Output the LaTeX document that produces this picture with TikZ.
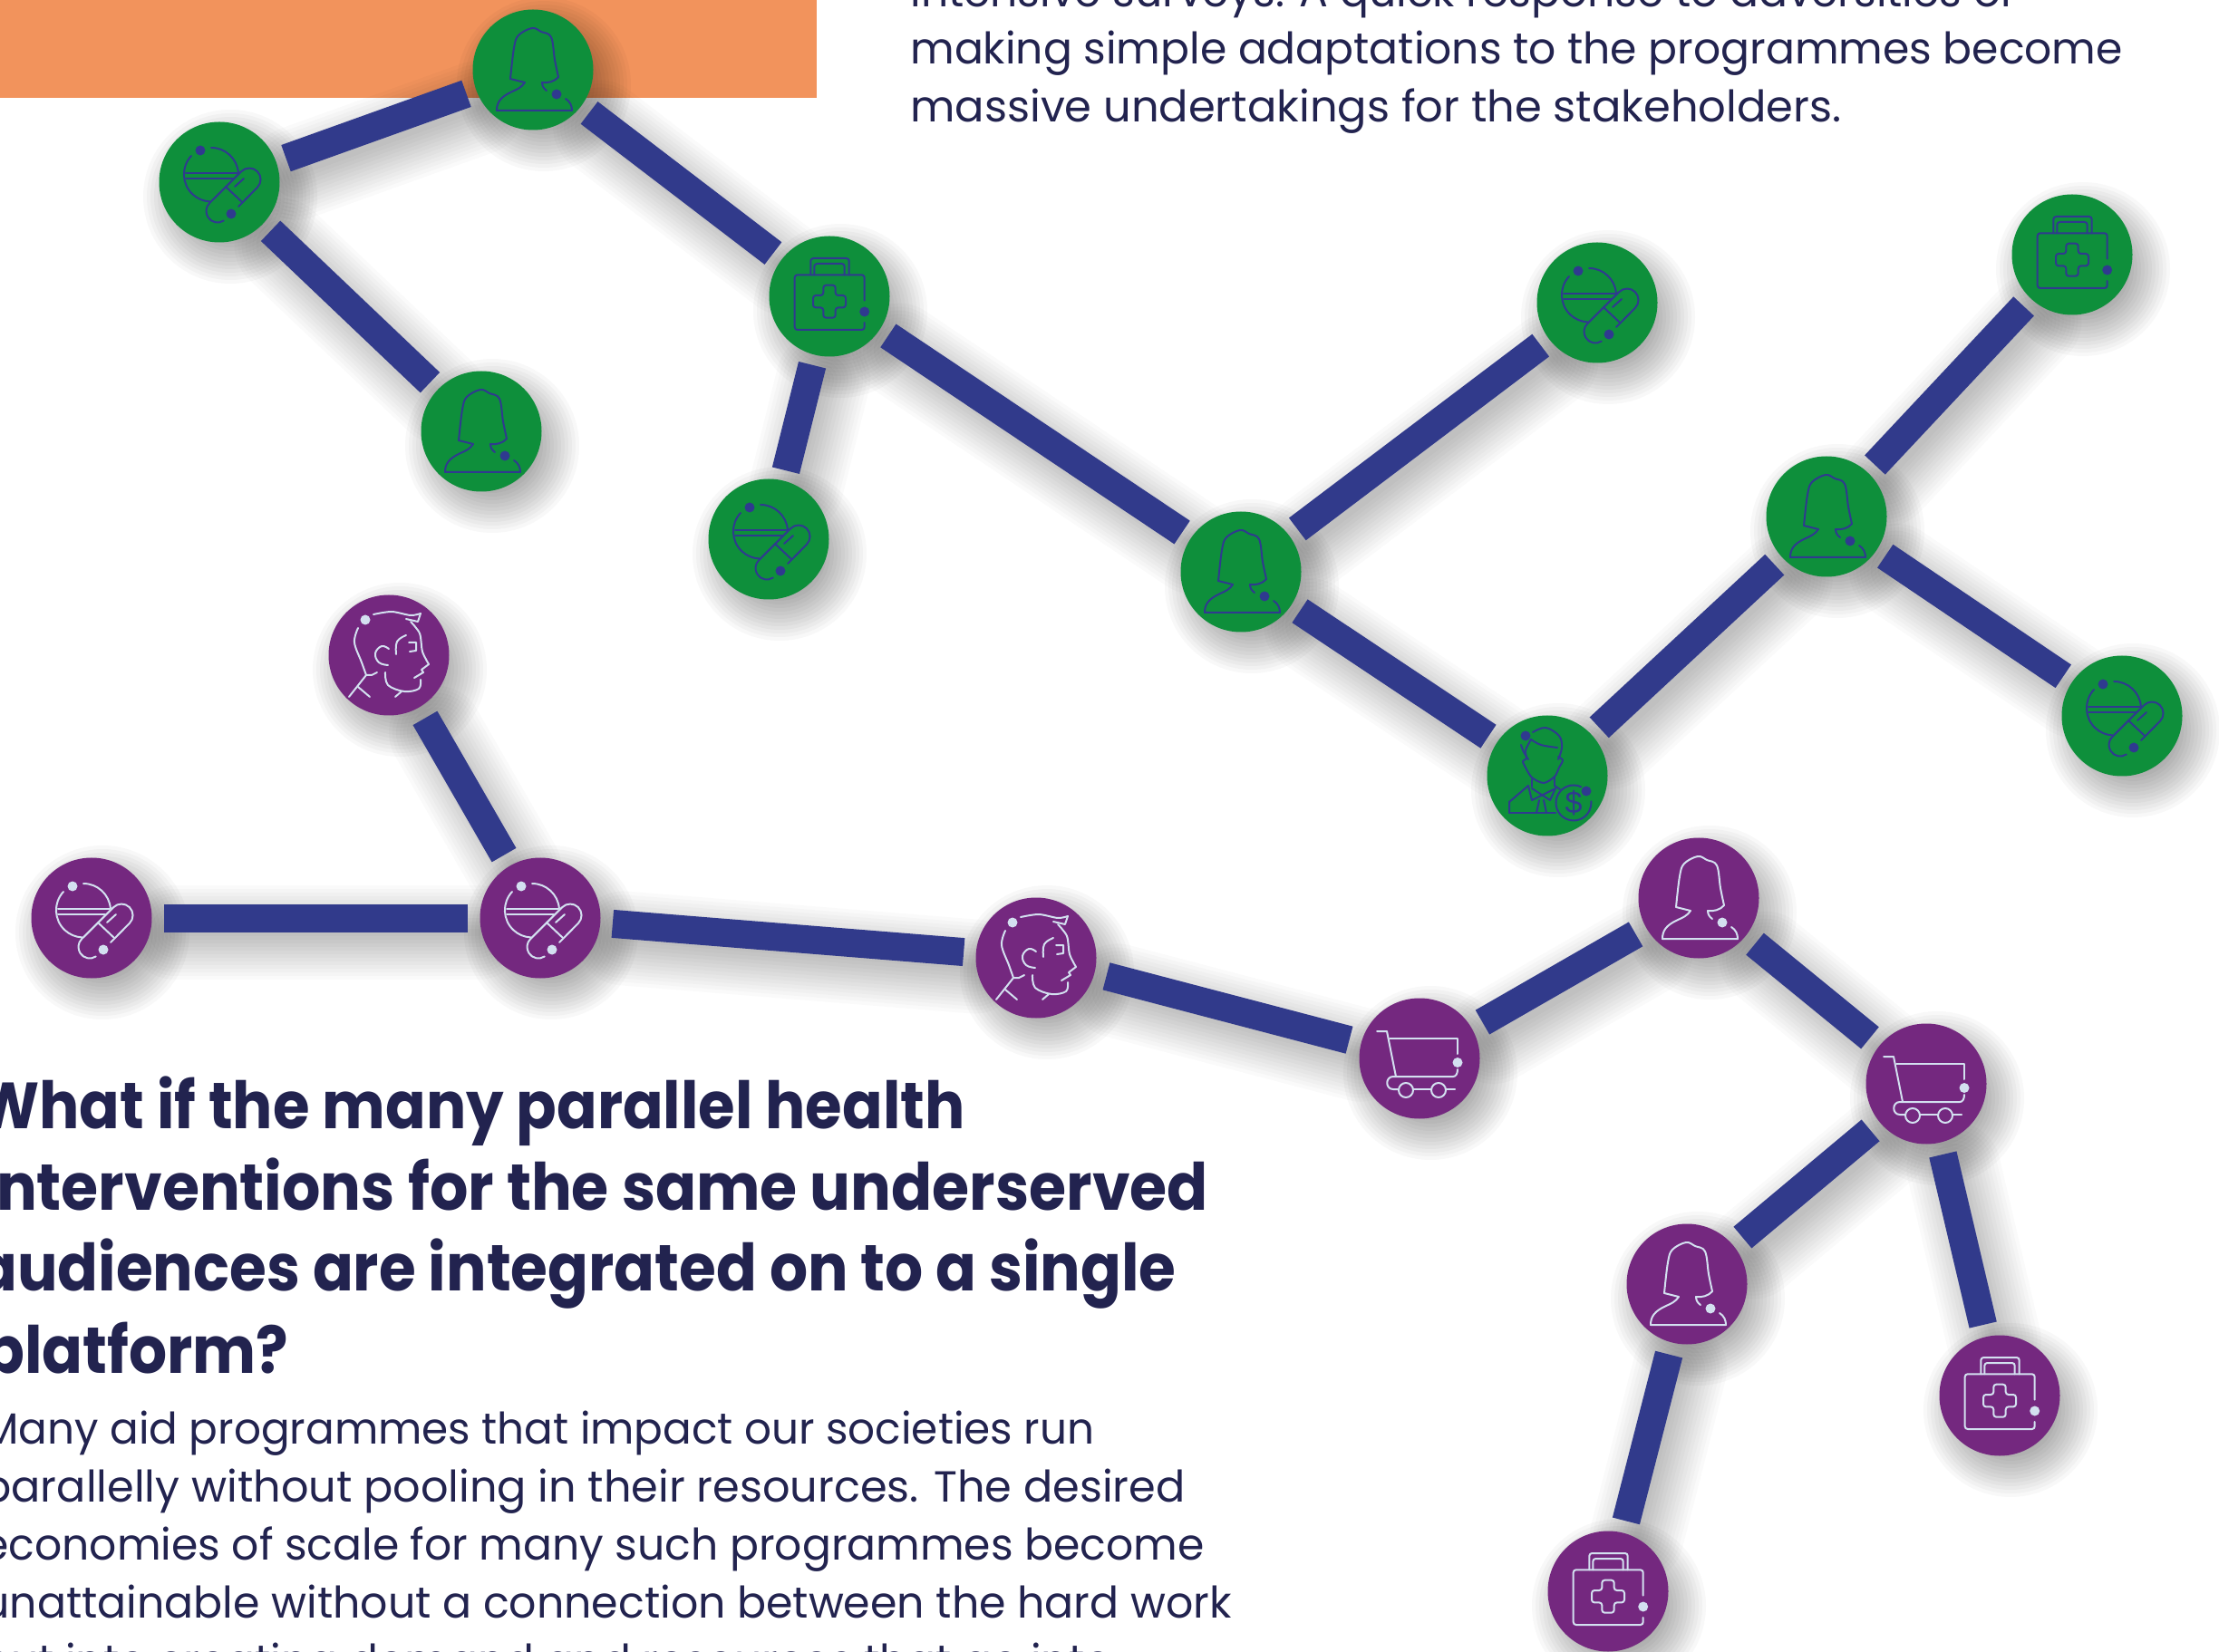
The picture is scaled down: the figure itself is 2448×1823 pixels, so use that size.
\documentclass[tikz,border=0pt]{standalone}
\usepackage{graphicx}
\usepackage{fontspec}
\setmainfont{Poppins}
\newfontfamily\headfont[FakeStretch=0.918]{Poppins}
\newfontfamily\bodyfont[FakeStretch=0.984]{Poppins}
\newfontfamily\dollarfont{Liberation Sans}
\definecolor{orangebar}{HTML}{F2935C}
\definecolor{gnodecol}{HTML}{0E8F3B}
\definecolor{pnodecol}{HTML}{74287F}
\definecolor{linkcol}{HTML}{313A8B}
\definecolor{iconblue}{HTML}{2F3A8F}
\definecolor{iconpale}{HTML}{D3E0F0}
\definecolor{inkcol}{HTML}{22234F}
\pgfdeclarelayer{barlayer}
\pgfdeclarelayer{shadowlayer}
\pgfsetlayers{barlayer,shadowlayer,main}
\tikzset{
  gnode/.style={circle,fill=gnodecol,minimum size=66.5pt,inner sep=0pt,outer sep=5.8pt},
  pnode/.style={circle,fill=pnodecol,minimum size=66.5pt,inner sep=0pt,outer sep=6.8pt},
  link/.style={draw=linkcol,line width=15.5pt},
  icl/.style={draw,line width=1pt,line join=round,line cap=round},
  headline/.style={anchor=base west,inner sep=0pt,text=inkcol,font=\headfont\bfseries\fontsize{36}{42}\selectfont},
  bodyline/.style={anchor=base west,inner sep=0pt,text=inkcol,font=\bodyfont\fontsize{24}{28}\selectfont},
  softlink/.style={line cap=round,draw=black,opacity=0.021,transform canvas={xshift=6pt,yshift=-8pt}},
  softnode/.style={fill=black,opacity=0.026,transform canvas={xshift=6pt,yshift=-8pt}},
  pics/woman/.style={code={
    \draw[icl] (36,32) .. controls (41,35) and (43,40) .. (43,45) -- (-40,45)
      .. controls (-40,36) and (-36,30) .. (-23,24) .. controls (-18,22) and (-12,19) .. (-9,14)
      -- (-25,10);
    \draw[icl] plot[smooth,tension=.6] coordinates {(-25,10) (-21,-24) (-16,-38) (-1,-46) (9,-42) (20,-36) (24,-11) (28,8)};
    \draw[icl] (28,8) .. controls (24,13) and (16,15) .. (10,14) .. controls (10,18) and (12,21) .. (15,23);
    \fill (26,27) circle[radius=5.5];
  }},
  pics/pills/.style={code={
    \fill (-21,-35) circle[radius=5.5];
    \fill (13,35) circle[radius=5.5];
    \draw[icl] (-9,-38) arc[start angle=270,end angle=355,radius=30];
    \draw[icl] (-31,-29) arc[start angle=223,end angle=93,radius=30];
    \draw[icl] (-37,-10) -- (20,-10);
    \draw[icl] (-37,-4) -- (15,-4);
    \draw[icl] (4.8,42.5) arc[start angle=57,end angle=225,radius=12.5] -- (24.2,-11.8)
      arc[start angle=225,end angle=405,radius=12.5] -- (21,27);
    \draw[icl] (7,5) -- (25,22);
    \draw[icl] (17,5) -- (27,-4);
  }},
  pics/kit/.style={code={
    \draw[icl,rounded corners=1.5pt] (38.7,4.7) -- (38.7,-23.7) -- (-38.3,-23.7) -- (-38.3,37) -- (38.7,37) -- (38.7,29);
    \fill (38.7,17) circle[radius=5.5];
    \draw[icl,rounded corners=1.5pt] (-20.7,-23.7) -- (-20.7,-42) -- (21.7,-42) -- (21.7,-23.7);
    \draw[icl,rounded corners=1.5pt] (-16.7,-23.7) -- (-16.7,-36) -- (16.7,-36) -- (16.7,-23.7);
    \draw[icl,rounded corners=1.5pt] (-6.7,-12.3) -- (6.7,-12.3) -- (6.7,-1) -- (18,-1) -- (18,12.4) -- (6.7,12.4) -- (6.7,23.7) -- (-6.7,23.7) -- (-6.7,12.4) -- (-18,12.4) -- (-18,-1) -- (-6.7,-1) -- cycle;
  }},
  pics/manhead/.style={code={
    \fill (-26,-39) circle[radius=5.5];
    \draw[icl] plot[smooth,tension=.5] coordinates {(-17,-45) (3,-48) (24,-44) (35,-46)};
    \draw[icl] (35,-46) -- (32,-37) -- (19,-40);
    \draw[icl] plot[smooth,tension=.5] coordinates {(24,-37) (34,-24) (37,-4) (44,10)};
    \draw[icl] (44,10) -- (36,16) -- (38,19) -- (28,25);
    \draw[icl] plot[smooth,tension=.6] coordinates {(-34,-30) (-38,-14) (-30,8) (-25,22)};
    \draw[icl] (-25,22) -- (-19,22) -- (-13,19);
    \draw[icl] (-25,22) -- (-44,46);
    \draw[icl] (-34,35) -- (-21,46);
    \draw[icl] plot[smooth,tension=.7] coordinates {(0,-7) (-8,-10) (-15,-2) (-11,8) (-1,11)};
    \draw[icl] plot[smooth,tension=.6] coordinates {(-4,19) (-1,33) (17,40) (33,37) (35,27)};
    \draw[icl] (14,40) -- (7,46);
    \draw[icl] plot[smooth,tension=.7] coordinates {(19,-22) (9,-15) (8,-1)};
    \draw[icl] (22,-14) -- (30,-14) -- (30,-5) -- (23,-4);
  }},
  pics/cart/.style={code={
    \draw[icl] (-47,-30) -- (-36,-30) -- (-26,20);
    \draw[icl] (-33,-22) -- (42,-22) -- (42,-5);
    \fill (42,4.5) circle[radius=5.5];
    \draw[icl] (42,12) .. controls (42,17) and (40,20) .. (37,20) -- (-29,20)
      .. controls (-38,20) and (-38,34) .. (-29,34) -- (-23,34);
    \draw[icl] (-15,35) circle[radius=8];
    \draw[icl] (21,35) circle[radius=8];
    \draw[icl] (-7,34) -- (13,34);
    \draw[icl] (29,34) -- (39,34);
  }},
  pics/advisor/.style={code={
    \fill (-24,-44) circle[radius=5.5];
    \fill (43,17) circle[radius=5.5];
    \draw[icl] plot[smooth,tension=.6] coordinates {(-16,-48) (-2,-53) (13,-44) (16,-31) (12,-18)};
    \draw[icl] plot[smooth,tension=.6] coordinates {(-29,-34) (-26,-26) (-21,-18)};
    \draw[icl] plot[smooth,tension=.6] coordinates {(-18,-40) (-7,-34) (11,-31)};
    \draw[icl] plot[smooth,tension=.5] coordinates {(-18,-40) (-24,-28) (-23,-19) (-27,-16) (-24,-9) (-17,2) (-4,8) (8,1) (13,-9) (17,-17) (12,-21)};
    \draw[icl] (-17,4) -- (-17,12);
    \draw[icl] (8,1) -- (8,11);
    \draw[icl] (-42,41) -- (-42,29) -- (-21,11) -- (-17,27) -- (9,14) -- (3,27) -- (-17,14);
    \draw[icl] (-42,41) -- (9,41);
    \draw[icl] (8,11) -- (14,15);
    \draw[icl] (-9,27) -- (-12,41);
    \draw[icl] (-4,27) -- (-1,41);
    \draw[icl] (37.2,12.3) arc[start angle=-65,end angle=-365,radius=19.5];
    \node[inner sep=0pt,font=\dollarfont\fontsize{17}{17}\selectfont] (advisordollar) at (29,30) {\$};
  }},
}
\begin{document}
\begin{tikzpicture}[x=0.5pt,y=-0.5pt]
\useasboundingbox (0,0) rectangle (2448,1823);
\begin{pgfonlayer}{barlayer}
  \fill[white] (0,0) rectangle (2448,1823);
  \fill[orangebar] (0,0) rectangle (901,108);
\end{pgfonlayer}

% green network
\node[gnode] (n1) at (242,201) {};
\node[gnode] (n2) at (588,77) {};
\node[gnode] (n3) at (531,476) {};
\node[gnode] (n4) at (915,327) {};
\node[gnode] (n5) at (848,595) {};
\node[gnode] (n6) at (1369,631) {};
\node[gnode] (n7) at (1762,334) {};
\node[gnode] (n8) at (1707,856) {};
\node[gnode] (n9) at (2015,570) {};
\node[gnode] (n10) at (2286,281) {};
\node[gnode] (n11) at (2341,790) {};
% purple network
\node[pnode] (p1) at (429,723) {};
\node[pnode] (p2) at (101,1013) {};
\node[pnode] (p3) at (596,1013) {};
\node[pnode] (p4) at (1143,1057) {};
\node[pnode] (p5) at (1566,1168) {};
\node[pnode] (p6) at (1874,991) {};
\node[pnode] (p7) at (2125,1196) {};
\node[pnode] (p8) at (1861,1417) {};
\node[pnode] (p9) at (2206,1540) {};
\node[pnode] (p10) at (1774,1756) {};

\foreach \a/\b in {n3/n1,n1/n2,n2/n4,n4/n5,n4/n6,n6/n7,n6/n8,n8/n9,n9/n10,n9/n11,
                   p1/p3,p2/p3,p3/p4,p4/p5,p5/p6,p6/p7,p7/p8,p7/p9,p8/p10}{
  \draw[link] (\a) -- (\b);
  \begin{pgfonlayer}{shadowlayer}
    \foreach \w in {4,8,...,52}{
      \draw[softlink,line width=\w pt] (\a) -- (\b);
    }
  \end{pgfonlayer}
}
\begin{pgfonlayer}{shadowlayer}
  \foreach \n in {n1,n2,n3,n4,n5,n6,n7,n8,n9,n10,n11,p1,p2,p3,p4,p5,p6,p7,p8,p9,p10}{
    \foreach \r in {22,24,...,48}{
      \fill[softnode] (\n.center) circle[radius=\r pt];
    }
  }
\end{pgfonlayer}

% icons
\foreach \n/\i in {n1/pills,n2/woman,n3/woman,n4/kit,n5/pills,n6/woman,n7/pills,n8/advisor,n9/woman,n10/kit,n11/pills}{
  \pic[color=iconblue] at (\n.center) {\i};
}
\foreach \n/\i in {p1/manhead,p2/pills,p3/pills,p4/manhead,p5/cart,p6/woman,p7/cart,p8/woman,p9/kit,p10/kit}{
  \pic[color=iconpale] at (\n.center) {\i};
}

% text
\node[bodyline] (t1) at (1004,8) {intensive surveys. A quick response to adversities or};
\node[bodyline] (t2) at (1004,71) {making simple adaptations to the programmes become};
\node[bodyline] (t3) at (1004,135) {\scalebox{1.015}[1]{massive undertakings for the stakeholders.}};
\node[headline] (h1) at (-26,1245) {\scalebox{.995}[1]{What if the many parallel health}};
\node[headline] (h2) at (-24,1335) {\scalebox{1.007}[1]{interventions for the same underserved}};
\node[headline] (h3) at (-26,1424) {audiences are integrated on to a single};
\node[headline] (h4) at (-18,1515) {platform?};
\node[bodyline] (b1) at (-20,1593) {\scalebox{.993}[1]{Many aid programmes that impact our societies run}};
\node[bodyline] (b2) at (-20,1657) {\scalebox{1.011}[1]{parallelly without pooling in their resources. The desired}};
\node[bodyline] (b3) at (-20,1721) {economies of scale for many such programmes become};
\node[bodyline] (b4) at (-20,1785) {\scalebox{1.004}[1]{unattainable without a connection between the hard work}};
\node[bodyline] (b5) at (-20,1849) {put into creating demand and resources that go into};
\end{tikzpicture}
\end{document}
